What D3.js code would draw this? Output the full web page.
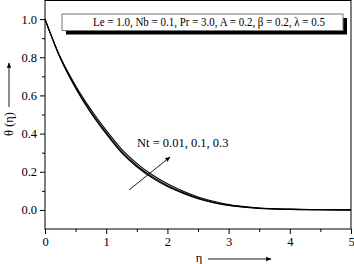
<!DOCTYPE html>
<html><head><meta charset="utf-8">
<script src="https://cdn.jsdelivr.net/npm/d3@7/dist/d3.min.js"></script>
<style>body{margin:0;background:#fff}svg{display:block}</style>
</head><body><svg id="c" width="354" height="264"></svg>
<script>
const eta   = [0, 0.25, 0.5, 0.75, 1.0, 1.25, 1.5, 1.75, 2.0, 2.25, 2.5, 2.75, 3.0, 3.5, 4.0, 4.5, 5.0];
const nt001 = [1.0, 0.794, 0.638, 0.508, 0.398, 0.300, 0.226, 0.168, 0.123, 0.088, 0.059, 0.038, 0.023, 0.008, 0.003, 0.001, 0.0];
const nt01  = [1.0, 0.797, 0.643, 0.515, 0.405, 0.307, 0.233, 0.174, 0.128, 0.092, 0.062, 0.040, 0.025, 0.009, 0.003, 0.001, 0.0];
const nt03  = [1.0, 0.801, 0.651, 0.526, 0.417, 0.319, 0.244, 0.184, 0.137, 0.099, 0.068, 0.045, 0.028, 0.010, 0.004, 0.001, 0.0];
const xTicks = [0, 1, 2, 3, 4, 5];
const yTicks = [0.0, 0.2, 0.4, 0.6, 0.8, 1.0];
const legendText = "Le = 1.0, Nb = 0.1, Pr = 3.0,  A = 0.2, β = 0.2, λ = 0.5";
const annotText = "Nt = 0.01, 0.1,  0.3";

const FONT = '"Liberation Serif", "Times New Roman", "DejaVu Serif", serif';
const svg = d3.select("#c");
const L = 45, R = 351, T = 0, B = 229;
const x = d3.scaleLinear().domain([0, 5]).range([L, R]);
const y = d3.scaleLinear().domain([-0.1, 1.1]).range([B, T]);

// frame
svg.append("rect").attr("x", L).attr("y", T + 0.5).attr("width", R - L).attr("height", B - T - 0.5)
  .attr("fill", "none").attr("stroke", "#000").attr("stroke-width", 1);

// axes
svg.append("g").attr("transform", `translate(0,${B})`)
  .call(d3.axisBottom(x).tickValues(xTicks).tickFormat(d3.format("d")).tickSize(5).tickPadding(3));
svg.append("g").attr("transform", `translate(0,${B})`)
  .call(d3.axisBottom(x).tickValues([0.5,1.5,2.5,3.5,4.5]).tickFormat("").tickSize(3));
svg.append("g").attr("transform", `translate(${L},0)`)
  .call(d3.axisLeft(y).tickValues(yTicks).tickFormat(d3.format(".1f")).tickSize(5).tickPadding(3));
svg.append("g").attr("transform", `translate(${L},0)`)
  .call(d3.axisLeft(y).tickValues([0.1,0.3,0.5,0.7,0.9]).tickFormat("").tickSize(3));
svg.selectAll(".domain").remove();
svg.selectAll("g").attr("font-family", FONT);
svg.selectAll(".tick line").attr("stroke", "#000");
svg.selectAll(".tick text").attr("fill", "#000").attr("font-family", FONT).attr("font-size", 12.5);

// curves
const line = d3.line().x((d, i) => x(eta[i])).y(d => y(d)).curve(d3.curveMonotoneX);
[nt001, nt01, nt03].forEach(s => {
  svg.append("path").attr("d", line(s)).attr("fill", "none").attr("stroke", "#000").attr("stroke-width", 1.1);
});

// legend box with shadow
const bx = 62, by = 14, bw = 281, bh = 16.5;
svg.append("rect").attr("x", bx + 4).attr("y", by + 4).attr("width", bw).attr("height", bh).attr("fill", "#000");
svg.append("rect").attr("x", bx).attr("y", by).attr("width", bw).attr("height", bh)
  .attr("fill", "#fff").attr("stroke", "#777").attr("stroke-width", 1);
svg.append("text").attr("x", 93).attr("y", by + 12).attr("font-family", FONT).attr("font-size", 11.5)
  .attr("textLength", 232).attr("lengthAdjust", "spacingAndGlyphs").text(legendText);

// annotation
svg.append("defs").append("marker").attr("id", "ah").attr("viewBox", "0 0 10 10").attr("refX", 9).attr("refY", 5)
  .attr("markerWidth", 6).attr("markerHeight", 6).attr("orient", "auto")
  .append("path").attr("d", "M0,1 L10,5 L0,9 Z").attr("fill", "#000");
svg.append("line").attr("x1", 129).attr("y1", 190).attr("x2", 170).attr("y2", 157)
  .attr("stroke", "#000").attr("stroke-width", 0.9).attr("marker-end", "url(#ah)");
svg.append("text").attr("x", 137).attr("y", 146.5).attr("font-family", FONT).attr("font-size", 12.5).text(annotText);

// y label
const yl = svg.append("g").attr("transform", "translate(13,124) rotate(-90)");
yl.append("text").attr("x", 0).attr("y", 0).attr("text-anchor", "middle").attr("font-family", FONT).attr("font-size", 12.5).text("θ (η)");
yl.append("line").attr("x1", 17).attr("y1", -4).attr("x2", 61).attr("y2", -4)
  .attr("stroke", "#000").attr("stroke-width", 0.9).attr("marker-end", "url(#ah)");

// x label
svg.append("text").attr("x", 199).attr("y", 262).attr("text-anchor", "middle").attr("font-family", FONT).attr("font-size", 12.5).text("η");
svg.append("line").attr("x1", 208).attr("y1", 259).attr("x2", 271).attr("y2", 259)
  .attr("stroke", "#000").attr("stroke-width", 0.9).attr("marker-end", "url(#ah)");
</script></body></html>
